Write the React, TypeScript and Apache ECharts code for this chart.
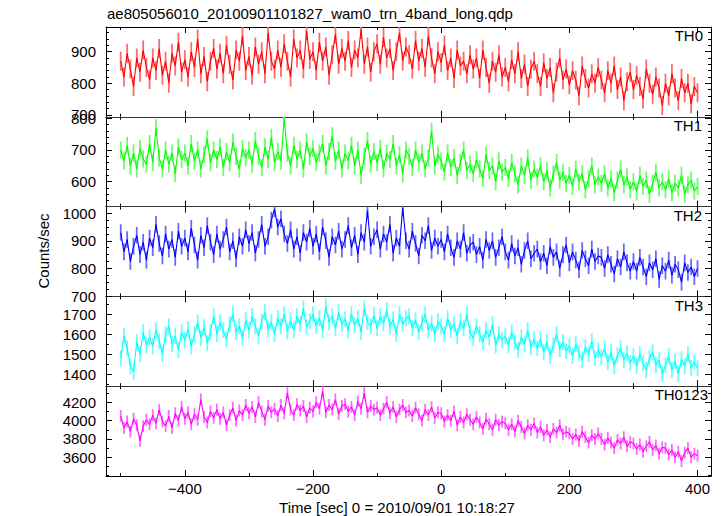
import React, { useEffect, useRef } from "react";
import * as echarts from "echarts";

// time bins: first bin and bin width (sec), relative to 2010/09/01 10:18:27
const T_START = -500;
const T_STEP = 5;

const TH0 = [
  870, 820, 895, 845, 790, 880, 835, 905, 850, 812,
  880, 840, 910, 825, 870, 800, 895, 855, 930, 835,
  875, 820, 900, 850, 940, 830, 885, 805, 870, 910,
  845, 895, 830, 920, 860, 810, 905, 870, 950, 840,
  885, 825, 915, 860, 900, 830, 960, 870, 845, 905,
  850, 925, 870, 820, 940, 880, 905, 845, 965, 875,
  900, 840, 930, 870, 915, 825, 890, 955, 860, 910,
  870, 935, 850, 905, 880, 970, 860, 915, 835, 900,
  925, 860, 945, 880, 910, 840, 900, 960, 870, 915,
  890, 845, 935, 870, 910, 850, 950, 880, 830, 900,
  865, 920, 840, 880, 815, 905, 855, 870, 830, 890,
  845, 880, 815, 905, 850, 800, 870, 835, 890, 820,
  850, 805, 875, 830, 900, 815, 860, 790, 845, 870,
  830, 790, 865, 815, 850, 770, 835, 880, 810, 845,
  795, 840, 810, 760, 855, 815, 785, 830, 800, 850,
  810, 770, 840, 800, 855, 780, 820, 745, 805, 835,
  780, 825, 790, 750, 845, 800, 765, 820, 785, 730,
  800, 760, 830, 785, 745, 815, 770, 800, 735, 790,
  770,
];

const TH1 = [
  700, 665, 715, 650, 690, 640, 705, 672, 655, 720,
  660, 770, 675, 640, 700, 655, 690, 625, 710, 670,
  690, 650, 720, 665, 700, 640, 685, 735, 660, 700,
  670, 710, 645, 695, 660, 725, 680, 640, 705, 675,
  700, 655, 730, 680, 645, 710, 670, 740, 660, 695,
  665, 800, 690, 650, 715, 670, 700, 640, 725, 680,
  705, 660, 690, 720, 650, 695, 745, 665, 700, 640,
  690, 665, 715, 650, 700, 620, 680, 730, 655, 695,
  660, 705, 640, 690, 670, 720, 650, 685, 625, 700,
  680, 645, 700, 660, 690, 640, 675, 760, 650, 685,
  665, 630, 690, 645, 675, 620, 660, 700, 635, 655,
  625, 670, 640, 610, 685, 635, 650, 600, 665, 630,
  645, 610, 660, 625, 590, 650, 620, 675, 605, 640,
  615, 650, 600, 635, 580, 625, 660, 605, 630, 595,
  620, 585, 640, 600, 625, 575, 610, 650, 590, 615,
  595, 625, 580, 610, 565, 605, 640, 590, 615, 575,
  600, 570, 620, 585, 605, 560, 595, 630, 580, 600,
  575, 610, 565, 595, 580, 620, 560, 590, 605, 570,
  585,
];

const TH2 = [
  930, 860, 905, 825, 880, 920, 850, 895, 830, 910,
  875, 960, 890, 845, 925, 870, 905, 840, 935, 880,
  910, 860, 945, 885, 830, 920, 875, 955, 895, 850,
  925, 870, 905, 950, 860, 900, 835, 915, 880, 940,
  890, 930, 855, 905, 960, 880, 915, 975, 1015, 950,
  980, 925, 890, 940, 870, 915, 855, 930, 895, 945,
  880, 925, 860, 950, 900, 840, 915, 885, 935, 870,
  905, 955, 875, 920, 850, 930, 895, 1010, 880, 915,
  940, 870, 925, 895, 960, 855, 910, 880, 1020, 900,
  870, 935, 890, 845, 920, 900, 955, 865, 910, 880,
  905, 860, 925, 875, 840, 900, 870, 930, 855, 885,
  895, 850, 880, 830, 905, 865, 900, 840, 875, 915,
  860, 830, 890, 845, 875, 815, 865, 900, 835, 855,
  870, 825, 855, 810, 880, 840, 860, 800, 850, 885,
  820, 860, 830, 795, 865, 835, 810, 870, 825, 845,
  840, 800, 850, 815, 780, 835, 805, 860, 820, 790,
  825, 790, 840, 805, 770, 820, 795, 835, 760, 810,
  790, 830, 775, 815, 795, 750, 820, 785, 805, 770,
  800,
];

const TH3 = [
  1480, 1590, 1530, 1440, 1410, 1560, 1500, 1610, 1545, 1585,
  1540, 1620, 1565, 1500, 1600, 1640, 1550, 1590, 1520, 1610,
  1570, 1625, 1540, 1600, 1660, 1580, 1635, 1555, 1610, 1690,
  1600, 1660, 1620, 1575, 1650, 1700, 1610, 1640, 1580, 1670,
  1620, 1690, 1640, 1590, 1665, 1710, 1625, 1660, 1600, 1680,
  1640, 1700, 1615, 1670, 1620, 1690, 1650, 1730, 1635, 1665,
  1700, 1640, 1680, 1620, 1740, 1660, 1690, 1630, 1710, 1650,
  1675, 1620, 1700, 1645, 1680, 1610, 1730, 1660, 1640, 1695,
  1630, 1690, 1655, 1720, 1640, 1675, 1600, 1700, 1650, 1680,
  1690, 1630, 1670, 1610, 1660, 1700, 1620, 1655, 1600, 1665,
  1640, 1600, 1680, 1620, 1650, 1590, 1665, 1630, 1700, 1610,
  1580, 1640, 1600, 1560, 1620, 1585, 1650, 1545, 1600, 1570,
  1590, 1545, 1610, 1560, 1520, 1585, 1550, 1620, 1535, 1575,
  1530, 1575, 1510, 1560, 1490, 1545, 1600, 1525, 1560, 1515,
  1540, 1490, 1550, 1505, 1470, 1535, 1500, 1565, 1480, 1520,
  1485, 1530, 1460, 1510, 1440, 1495, 1530, 1470, 1505, 1455,
  1490, 1440, 1500, 1455, 1420, 1480, 1510, 1445, 1470, 1400,
  1445, 1490, 1420, 1465, 1400, 1475, 1440, 1500, 1430, 1460,
  1430,
];

const TH0123 = [
  4050, 3920, 3990, 3880, 4020, 3950, 3780, 3940, 4010, 3960,
  4060, 3970, 4120, 3990, 3940, 4050, 3920, 4080, 4000, 4150,
  4020, 4090, 3960, 4070, 4010, 4230, 4040, 3980, 4100, 4030,
  4120, 4020, 4090, 3950, 4060, 4140, 4000, 4110, 4060, 4170,
  4080, 4150, 4040, 4200, 4100, 4010, 4160, 4090, 4130, 4050,
  4170, 4080, 4300, 4120, 4060, 4180, 4110, 4160, 4040, 4140,
  4100, 4200, 4130, 4320, 4090, 4170, 4120, 4230, 4070, 4160,
  4180, 4100, 4150, 4060, 4210, 4130, 4300, 4090, 4160, 4120,
  4140, 4060, 4130, 4200, 4080, 4150, 4040, 4120, 4170, 4090,
  4110, 4050, 4140, 4070, 4000, 4120, 4060, 4150, 4030, 4090,
  4080, 3990, 4060, 4000, 4100, 3950, 4040, 3980, 4070, 4010,
  3960, 4040, 3980, 3910, 4020, 3960, 3900, 4010, 3950, 3990,
  3970, 3900, 3960, 3880, 4000, 3930, 3860, 3950, 3900, 3970,
  3870, 3930, 3840, 3900, 3820, 3910, 3870, 3950, 3850, 3880,
  3860, 3800, 3850, 3780, 3880, 3820, 3760, 3840, 3800, 3860,
  3800, 3740, 3810, 3760, 3700, 3790, 3750, 3820, 3720, 3770,
  3750, 3690, 3740, 3660, 3720, 3770, 3680, 3730, 3640, 3710,
  3700, 3630, 3680, 3600, 3660, 3560, 3650, 3700, 3600, 3640,
  3620,
];

// 1-sigma error of each band (counts/sec)
const ERRORS = [30, 27, 30, 40, 65];

const SERIES_VALUES = [TH0, TH1, TH2, TH3, TH0123];
const PANEL_NAMES = ["TH0", "TH1", "TH2", "TH3", "TH0123"];
const COLORS = ["#ff0000", "#00ff00", "#0000ff", "#00ffff", "#ff00ff"];
const ERR_COLORS = ["#ff6a6a", "#6aff6a", "#6a6aff", "#6affff", "#ff6aff"];

const X_MIN = -523;
const X_MAX = 421;
const X_MAJOR = [-400, -200, 0, 200, 400];
const X_MINOR = [-500, -300, -100, 100, 300];

const Y_MIN = [694, 521.5, 698.6, 1339, 3396];
const Y_MAX = [978, 804.7, 1024, 1790, 4376];
const Y_MAJOR = [
  [700, 800, 900],
  [600, 700, 800],
  [700, 800, 900, 1000],
  [1400, 1500, 1600, 1700],
  [3600, 3800, 4000, 4200],
];
const Y_MINOR_STEP = [20, 20, 25, 50, 100];

const TITLE = "ae805056010_20100901101827_wam0_trn_4band_long.qdp";
const X_TITLE = "Time [sec] 0 = 2010/09/01 10:18:27";
const Y_TITLE = "Counts/sec";

const FONT = "'Liberation Sans', Arial, Helvetica, sans-serif";

function minorValues(min: number, max: number, step: number, majors: number[]) {
  const out: number[] = [];
  for (let v = Math.ceil(min / step) * step; v <= max; v += step) {
    if (!majors.includes(v)) out.push(v);
  }
  return out;
}

export default function App() {
  const ref = useRef<HTMLDivElement>(null);

  useEffect(() => {
    if (!ref.current) return;
    const chart = echarts.init(ref.current, undefined, { renderer: "svg" });

    const LEFT = 106;
    const RIGHT = 711;
    const TOP = 27;
    const BOTTOM = 476;
    const H = (BOTTOM - TOP) / 5;

    const grids: any[] = [];
    const xAxes: any[] = [];
    const yAxes: any[] = [];
    const series: any[] = [];
    const graphics: any[] = [];

    const labelPosY = [43, 133, 223, 313, 402];
    const labelPosX = [703, 702, 702, 703, 708];

    for (let i = 0; i < 5; i++) {
      grids.push({ left: LEFT, top: TOP + i * H, width: RIGHT - LEFT, height: H, containLabel: false });

      const lineStyle = { color: "#000", width: 1 };
      const sepStyle = { color: "#333", width: 1.2 };
      const mkX = (pos: string, values: number[], len: number, showLine: boolean, showLabel: boolean) => ({
        type: "value",
        gridIndex: i,
        position: pos,
        min: X_MIN,
        max: X_MAX,
        axisLine: { show: showLine, onZero: false, lineStyle: (pos === "top" && i > 0) || (pos === "bottom" && i < 4) ? sepStyle : lineStyle },
        axisTick: { show: true, inside: true, length: len, customValues: values, lineStyle },
        axisLabel: {
          show: showLabel,
          customValues: values,
          color: "#000",
          fontSize: 15,
          fontFamily: FONT,
          margin: 5,
          formatter: (v: number) => String(v).replace("-", "\u2212"),
        },
        splitLine: { show: false },
      });
      xAxes.push(mkX("bottom", X_MAJOR, 6, true, i === 4));
      xAxes.push(mkX("bottom", X_MINOR, 3, false, false));
      xAxes.push(mkX("top", X_MAJOR, 6, true, false));
      xAxes.push(mkX("top", X_MINOR, 3, false, false));

      const yMinor = minorValues(Y_MIN[i], Y_MAX[i], Y_MINOR_STEP[i], Y_MAJOR[i]);
      const mkY = (pos: string, values: number[], len: number, showLine: boolean, showLabel: boolean) => ({
        type: "value",
        gridIndex: i,
        position: pos,
        min: Y_MIN[i],
        max: Y_MAX[i],
        axisLine: { show: showLine, onZero: false, lineStyle },
        axisTick: { show: true, inside: true, length: len, customValues: values, lineStyle },
        axisLabel: {
          show: showLabel,
          customValues: values,
          color: "#000",
          fontSize: 15,
          fontFamily: FONT,
          margin: 10,
          formatter: (v: number) => String(v),
        },
        splitLine: { show: false },
      });
      yAxes.push(mkY("left", Y_MAJOR[i], 6, true, true));
      yAxes.push(mkY("left", yMinor, 3, false, false));
      yAxes.push(mkY("right", Y_MAJOR[i], 6, true, false));
      yAxes.push(mkY("right", yMinor, 3, false, false));

      const vals = SERIES_VALUES[i];
      const pts = vals.map((v, k) => [T_START + k * T_STEP, v, ERRORS[i]]);
      const errColor = ERR_COLORS[i];

      // error bars
      series.push({
        type: "custom",
        xAxisIndex: i * 4,
        yAxisIndex: i * 4,
        data: pts,
        silent: true,
        z: 1,
        clip: true,
        renderItem: (params: any, api: any) => {
          const x = api.value(0);
          const y = api.value(1);
          const e = api.value(2);
          const p1 = api.coord([x, y - e]);
          const p2 = api.coord([x, y + e]);
          return {
            type: "line",
            shape: { x1: p1[0], y1: p1[1], x2: p2[0], y2: p2[1] },
            style: { stroke: errColor, lineWidth: 1.8 },
          };
        },
      });

      series.push({
        type: "line",
        xAxisIndex: i * 4,
        yAxisIndex: i * 4,
        data: pts.map((p) => [p[0], p[1]]),
        showSymbol: false,
        symbol: "none",
        lineStyle: { color: COLORS[i], width: 1.1 },
        itemStyle: { color: COLORS[i] },
        silent: true,
        z: 2,
      });

      graphics.push({
        type: "text",
        x: labelPosX[i],
        y: labelPosY[i],
        style: {
          text: PANEL_NAMES[i],
          fill: "#000",
          font: `15px ${FONT}`,
          textAlign: "right",
          textVerticalAlign: "bottom",
        },
        z: 10,
      });
    }

    graphics.push({
      type: "text",
      x: 107,
      y: 21,
      style: { text: TITLE, fill: "#000", font: `15px ${FONT}`, textAlign: "left", textVerticalAlign: "bottom" },
    });
    graphics.push({
      type: "text",
      x: 397,
      y: 507,
      style: { text: X_TITLE, fill: "#000", font: `15px ${FONT}`, textAlign: "center", textVerticalAlign: "middle" },
    });
    graphics.push({
      type: "text",
      x: 43,
      y: 251,
      rotation: Math.PI / 2,
      style: { text: Y_TITLE, fill: "#000", font: `15px ${FONT}`, textAlign: "center", textVerticalAlign: "middle" },
    });

    chart.setOption({
      animation: false,
      backgroundColor: "#fff",
      grid: grids,
      xAxis: xAxes,
      yAxis: yAxes,
      series,
      graphic: { elements: graphics },
    });

    return () => chart.dispose();
  }, []);

  return (
    <div
      ref={ref}
      style={{ position: "absolute", left: 0, top: 0, width: 723, height: 516 }}
    />
  );
}
